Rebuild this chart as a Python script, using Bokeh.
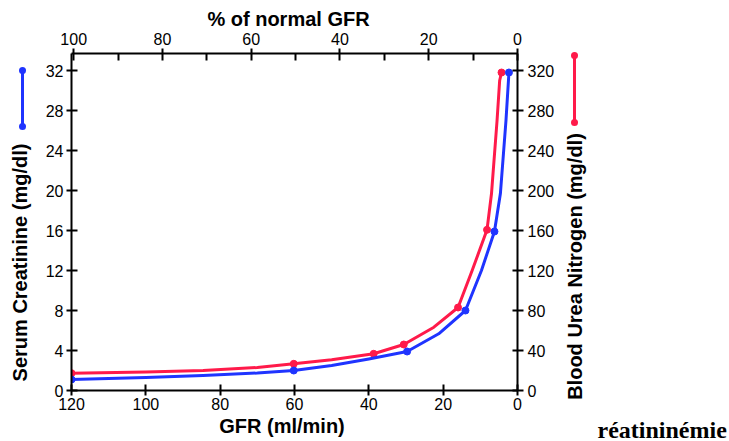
import math
from bokeh.plotting import figure
from bokeh.models import Range1d, LinearAxis, FixedTicker
from bokeh.core.properties import value
from bokeh.embed import file_html
from bokeh.resources import INLINE

# ---- data ----
gfr_creat = [120, 100, 84.6, 70, 60.2, 50, 40, 29.7, 21.2, 14, 9.7, 6.2, 4.6, 3.1, 2.3]
creatinine = [1.1, 1.3, 1.5, 1.75, 2.0, 2.5, 3.15, 3.9, 5.67, 8.0, 12.0, 15.9, 19.7, 27.0, 31.8]
creat_marker_idx = [0, 4, 7, 9, 11, 14]

gfr_bun = [120, 100, 84.6, 70, 60.2, 50, 38.7, 30.6, 22.5, 16, 12.2, 8.2, 7.0, 5.5, 4.8, 4.3]
bun = [17.3, 18.5, 20.0, 23.0, 26.7, 30.7, 36.7, 46.0, 63.3, 83.0, 120.0, 160.7, 196.7, 270.0, 310.0, 318.0]
bun_marker_idx = [0, 4, 6, 7, 9, 11, 15]

gfr_ticks = [0, 20, 40, 60, 80, 100, 120]
pct_ticks = [0, 20, 40, 60, 80, 100]
pct_minor = [10, 30, 50, 70, 90]
creat_ticks = [0, 4, 8, 12, 16, 20, 24, 28, 32]
bun_ticks = [0, 40, 80, 120, 160, 200, 240, 280, 320]

BLUE = "#1f34ff"
RED = "#ff1a4a"
FONT = "Liberation Sans"

W, H = 729, 441
FL, FR, FT, FB = 71, 517, 53, 390  # frame edges in canvas px

x_range = Range1d(120, 0)
y_range = Range1d(0, 33.7)

p = figure(width=W, height=H, x_range=x_range, y_range=y_range,
           output_backend="svg", toolbar_location=None,
           min_border_left=FL, min_border_right=W - FR,
           min_border_top=FT, min_border_bottom=H - FB,
           x_axis_location=None, y_axis_location=None)
p.outline_line_color = None
p.xgrid.visible = False
p.ygrid.visible = False
p.background_fill_color = "white"
p.border_fill_color = "white"

p.extra_y_ranges = {"bun": Range1d(0, 337)}
p.extra_x_ranges = {"pct": Range1d(100.5, 0)}


def style(ax, tin, tout, standoff):
    ax.axis_line_width = 2
    ax.axis_line_color = "black"
    ax.major_tick_line_width = 2
    ax.major_tick_line_color = "black"
    ax.major_tick_in = tin
    ax.major_tick_out = tout
    ax.major_label_standoff = standoff
    ax.major_label_text_font = FONT
    ax.major_label_text_font_size = "16px"
    ax.major_label_text_color = "black"


bottom = LinearAxis(ticker=FixedTicker(ticks=gfr_ticks, minor_ticks=[]))
style(bottom, 6, 5, 2)
bottom.minor_tick_line_color = None
p.add_layout(bottom, "below")

left = LinearAxis(ticker=FixedTicker(ticks=creat_ticks, minor_ticks=[]))
style(left, 6, 5, 3)
left.minor_tick_line_color = None
p.add_layout(left, "left")

right = LinearAxis(y_range_name="bun", ticker=FixedTicker(ticks=bun_ticks, minor_ticks=[]))
style(right, 5, 6, 4)
right.minor_tick_line_color = None
p.add_layout(right, "right")

top = LinearAxis(x_range_name="pct", ticker=FixedTicker(ticks=pct_ticks, minor_ticks=pct_minor))
style(top, 7, 5, 4)
top.minor_tick_line_width = 2
top.minor_tick_line_color = "black"
top.minor_tick_in = 7
top.minor_tick_out = 0
p.add_layout(top, "above")

# ---- curves ----
p.line(gfr_bun, bun, y_range_name="bun", line_color=RED, line_width=3,
       line_join="round", line_cap="round")
p.scatter([gfr_bun[i] for i in bun_marker_idx], [bun[i] for i in bun_marker_idx],
          y_range_name="bun", size=7, color=RED)

p.line(gfr_creat, creatinine, line_color=BLUE, line_width=3,
       line_join="round", line_cap="round")
p.scatter([gfr_creat[i] for i in creat_marker_idx], [creatinine[i] for i in creat_marker_idx],
          size=7, color=BLUE)


# ---- helpers: canvas px -> data coords (for decorations outside the frame) ----
def gx(cx):
    return x_range.start + (cx - FL) * (x_range.end - x_range.start) / (FR - FL)


def gy(cy):
    return y_range.start + (FB - cy) * (y_range.end - y_range.start) / (FB - FT)


# legend keys (vertical bar with a dot at each end)
for cx, cy1, cy2, col in [(22, 70, 126, BLUE), (574, 55, 122, RED)]:
    r = p.line([gx(cx), gx(cx)], [gy(cy1), gy(cy2)], line_color=col, line_width=3)
    r.level = "overlay"
    for cy in (cy1, cy2):
        d = p.line([gx(cx), gx(cx)], [gy(cy) - 0.005, gy(cy) + 0.005],
                   line_color=col, line_width=7, line_cap="round")
        d.level = "overlay"

# axis titles and caption: text anchored at the frame centre, moved by pixel offsets
CX, CY = (FL + FR) / 2, (FT + FB) / 2


def title(txt, tx, ty, angle=0.0, baseline="alphabetic", align="center",
          font=FONT, size="20px"):
    r = p.text(x=[gx(CX)], y=[gy(CY)], text=[txt],
               x_offset=tx - CX, y_offset=ty - CY, angle=angle,
               text_align=align, text_baseline=baseline,
               text_font=value(font), text_font_size=value(size),
               text_font_style="bold", text_color="black")
    r.level = "overlay"


title("% of normal GFR", 288, 18)
title("GFR (ml/min)", 281.5, 425)
title("Serum Creatinine (mg/dl)", 19, 262, angle=math.pi / 2, baseline="middle")
title("Blood Urea Nitrogen (mg/dl)", 574, 266, angle=math.pi / 2, baseline="middle")
title("réatininémie", 597, 429, align="left", font="Liberation Serif", size="24px")

open("out.html", "w").write(file_html(p, INLINE))
